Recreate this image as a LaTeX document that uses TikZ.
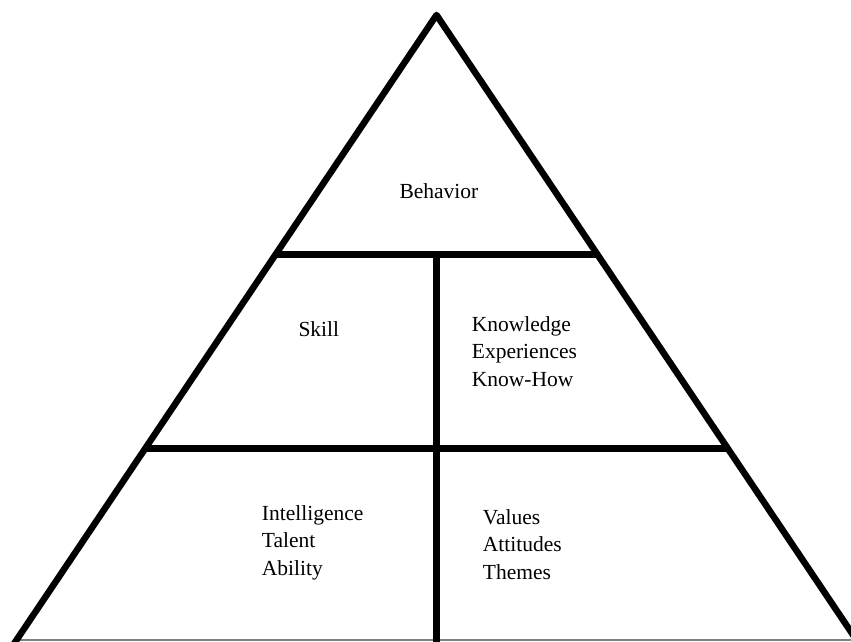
\documentclass[tikz,border=0pt]{standalone}
\usepackage{fontspec}
\setmainfont{Liberation Serif}
\newfontfamily\pyrfont{Liberation Serif}
\usetikzlibrary{calc}
\begin{document}
\begin{tikzpicture}[
    x=1pt, y=-1pt, % pixel-like units, y downwards
    line join=round,
    side/.style = {draw=black, line width=6.5pt},
    floor/.style = {draw=gray, line width=1.3pt},
    label_text/.style = {anchor=base west, inner sep=0pt, align=left, font=\pyrfont\fontsize{21.5}{27.5}\selectfont}
    ]
    \useasboundingbox (0,0) rectangle (851,641);
    \clip (0,0) rectangle (851,641);
    \coordinate (top) at (436.5,15);
    \coordinate (bl) at (9.8,650);
    \coordinate (br) at (863.2,650);
    \coordinate (u1) at ($(top)!0.37717!(bl)$);
    \coordinate (u2) at ($(top)!0.37717!(br)$);
    \coordinate (l1) at ($(top)!0.68268!(bl)$);
    \coordinate (l2) at ($(top)!0.68268!(br)$);
    \coordinate (g1) at ($(top)!0.98425!(bl)$);
    \coordinate (g2) at ($(top)!0.98425!(br)$);
    \coordinate (um) at ($(u1)!0.5!(u2)$);
    \coordinate (bm) at ($(bl)!0.5!(br)$);

    \draw[floor] (g1) -- (g2);
    \draw[side] (bl) -- (top) -- (br);
    \draw[side] (u1) -- (u2);
    \draw[side] (l1) -- (l2);
    \draw[side] (um) -- (bm);

    % multi-line nodes sit on the baseline of their last line
    \node[label_text] (behavior) at (399.3,198.3) {Behavior};
    \node[label_text] (skill) at (298.3,336.7) {Skill};
    \node[label_text] (knowledge) at (471.7,386) {Knowledge\\Experiences\\Know-How};
    \node[label_text] (intelligence) at (261.7,575) {Intelligence\\Talent\\Ability};
    \node[label_text] (values) at (482.7,579.3) {Values\\Attitudes\\Themes};
\end{tikzpicture}
\end{document}
